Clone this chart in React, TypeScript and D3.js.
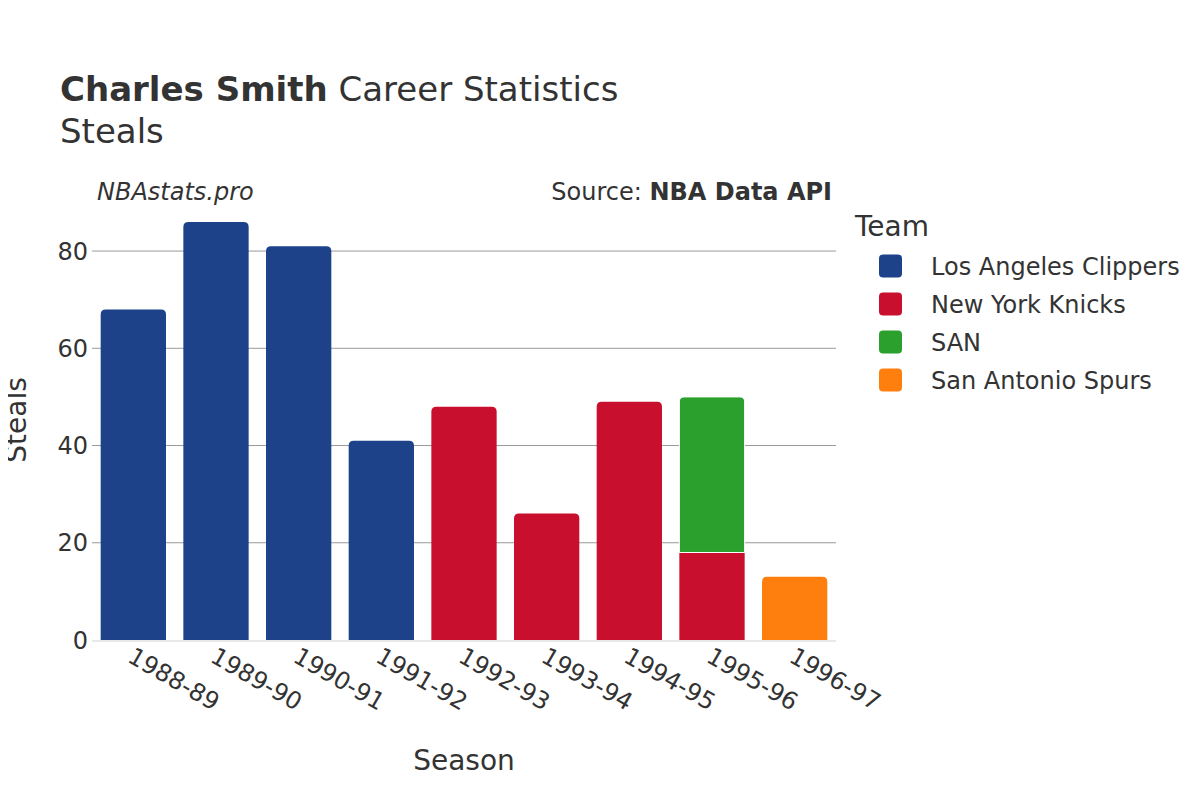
import React, { useEffect, useRef } from 'react'
import * as d3 from 'd3'

const seasons = ['1988-89', '1989-90', '1990-91', '1991-92', '1992-93', '1993-94', '1994-95', '1995-96', '1996-97']
const teams = ['Los Angeles Clippers', 'New York Knicks', 'SAN', 'San Antonio Spurs']
const teamColors = ['#1d428a', '#c8102e', '#2ca02c', '#ff7f0e']
// steals per season for each team (0 = did not play for them)
const clippers = [68, 86, 81, 41, 0, 0, 0, 0, 0]
const knicks = [0, 0, 0, 0, 48, 26, 49, 18, 0]
const san = [0, 0, 0, 0, 0, 0, 0, 32, 0]
const spurs = [0, 0, 0, 0, 0, 0, 0, 0, 13]
const yTicks = [0, 20, 40, 60, 80]

const W = 1200
const H = 800
const margin = { left: 92, right: 364, top: 200, bottom: 160 }
const FONT = '"DejaVu Sans", Verdana, sans-serif'

// rect with only the top corners rounded
function topRounded(x: number, y: number, w: number, h: number, r: number) {
  r = Math.min(r, h, w / 2)
  return `M${x},${y + h}V${y + r}Q${x},${y} ${x + r},${y}H${x + w - r}Q${x + w},${y} ${x + w},${y + r}V${y + h}Z`
}

export default function App() {
  const ref = useRef<SVGSVGElement>(null)

  useEffect(() => {
    const svg = d3.select(ref.current)
    svg.selectAll('*').remove()
    svg.style('font-family', FONT)

    const x = d3.scaleBand().domain(seasons).range([margin.left, W - margin.right]).paddingInner(0.21).paddingOuter(0.105)
    const y = d3.scaleLinear().domain([0, 90.5]).range([H - margin.bottom, margin.top])

    // grid
    svg.append('g')
      .selectAll('line')
      .data(yTicks.filter(d => d > 0))
      .enter().append('line')
      .attr('x1', margin.left).attr('x2', W - margin.right)
      .attr('y1', d => y(d)).attr('y2', d => y(d))
      .attr('stroke', '#999').attr('stroke-width', 1)

    const series = [clippers, knicks, san, spurs]
    const stacked = seasons.map((s, i) => {
      let base = 0
      const segs: { team: number; y0: number; y1: number }[] = []
      series.forEach((arr, t) => {
        if (arr[i] > 0) {
          segs.push({ team: t, y0: base, y1: base + arr[i] })
          base += arr[i]
        }
      })
      return { season: s, segs }
    })

    const bars = svg.append('g')
    stacked.forEach(st => {
      st.segs.forEach((sg, k) => {
        const x0 = x(st.season)!
        const yt = y(sg.y1)
        const h = y(sg.y0) - yt
        const isTop = k === st.segs.length - 1
        bars.append('path')
          .attr('d', isTop ? topRounded(x0, yt, x.bandwidth(), h, 5) : `M${x0},${yt}h${x.bandwidth()}v${h}h${-x.bandwidth()}Z`)
          .attr('fill', teamColors[sg.team])
          .attr('stroke', '#fff').attr('stroke-width', k > 0 ? 1 : 0)
      })
    })

    // zero line
    svg.append('line')
      .attr('x1', margin.left).attr('x2', W - margin.right)
      .attr('y1', y(0) + 1).attr('y2', y(0) + 1)
      .attr('stroke', '#e8e8e8').attr('stroke-width', 2)

    // y ticks
    svg.append('g')
      .selectAll('text')
      .data(yTicks)
      .enter().append('text')
      .attr('x', margin.left - 4).attr('y', d => y(d))
      .attr('dy', '0.36em')
      .attr('text-anchor', 'end')
      .attr('font-size', 24).attr('fill', '#333')
      .text(d => d)

    // x ticks
    svg.append('g')
      .selectAll('text')
      .data(seasons)
      .enter().append('text')
      .attr('transform', d => `translate(${x(d)! + x.bandwidth() / 2 - 7},${H - margin.bottom + 21}) rotate(30)`)
      .attr('font-size', 24).attr('fill', '#333')
      .text(d => d)

    // axis titles
    svg.append('text')
      .attr('x', (margin.left + W - margin.right) / 2).attr('y', 770)
      .attr('text-anchor', 'middle').attr('font-size', 28).attr('fill', '#333')
      .text('Season')
    svg.append('text')
      .attr('transform', `translate(26,${(y(0) + margin.top) / 2}) rotate(-90)`)
      .attr('text-anchor', 'middle').attr('font-size', 28).attr('fill', '#333')
      .text('Steals')

    // title
    const title = svg.append('text').attr('x', 60).attr('y', 101).attr('font-size', 34).attr('fill', '#333')
    title.append('tspan').attr('font-weight', 'bold').text('Charles Smith')
    title.append('tspan').text(' Career Statistics')
    svg.append('text').attr('x', 60).attr('y', 143).attr('font-size', 34).attr('fill', '#333').text('Steals')

    svg.append('text').attr('x', 97).attr('y', 200).attr('font-size', 24).attr('font-style', 'italic').attr('fill', '#333').text('NBAstats.pro')
    const src = svg.append('text').attr('x', 832).attr('y', 200).attr('text-anchor', 'end').attr('font-size', 24).attr('fill', '#333')
    src.append('tspan').text('Source: ')
    src.append('tspan').attr('font-weight', 'bold').text('NBA Data API')

    // legend
    svg.append('text').attr('x', 855).attr('y', 236).attr('font-size', 28).attr('fill', '#333').text('Team')
    const leg = svg.append('g').selectAll('g').data(teams).enter().append('g')
      .attr('transform', (d, i) => `translate(879,${266 + i * 38})`)
    leg.append('rect').attr('x', 0).attr('y', -11.5).attr('width', 23).attr('height', 23).attr('rx', 4)
      .attr('fill', (d, i) => teamColors[i])
    leg.append('text').attr('x', 52).attr('dy', '0.36em').attr('font-size', 24).attr('fill', '#333').text(d => d)
  }, [])

  return <svg ref={ref} width={W} height={H} style={{ display: 'block', margin: -8 }} />
}
